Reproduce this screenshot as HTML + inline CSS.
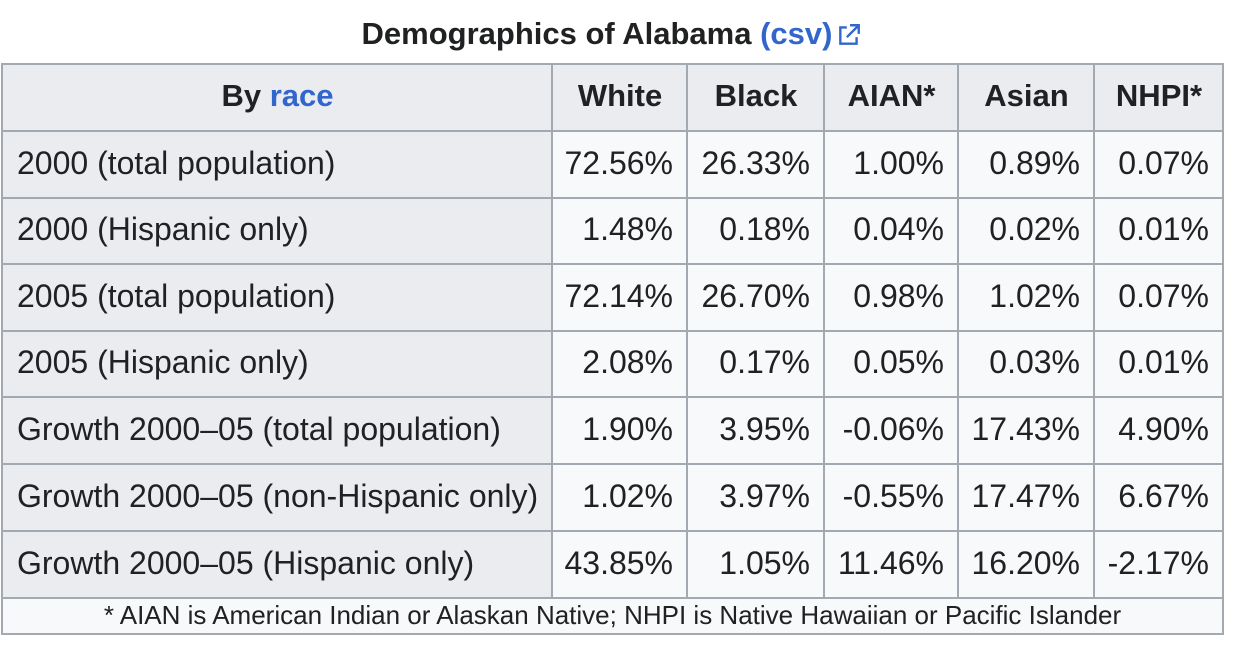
<!DOCTYPE html>
<html><head><meta charset="utf-8"><style>
body{margin:0;width:1234px;height:654px;background:#fff;font-family:"Liberation Sans",Arial,sans-serif;color:#202122;position:relative;overflow:hidden}
.c{position:absolute;box-sizing:border-box;border:2px solid #a2a9b1;display:flex;align-items:center;font-size:32px;padding:0 13px 3px 14px;white-space:nowrap}
.h{background:#eaecf0;font-weight:bold;justify-content:center;font-size:31px}
.l{background:#eaecf0}
.d{background:#f8f9fa;justify-content:flex-end}
a{color:#3366cc;text-decoration:none}
#t{position:absolute;top:16px;left:0;width:1224px;text-align:center;font-weight:bold;font-size:31px}
</style></head><body>
<div id="t">Demographics of Alabama <a>(csv)</a><svg width="26" height="26" viewBox="0 0 24 24" style="vertical-align:-4px;margin-left:4px"><path d="M10 5H4v15h15v-6M13 3h8v8M21 3L10 14" fill="none" stroke="#3366cc" stroke-width="2.2"/></svg></div>
<div id="tbl"></div>
<script>
const xs=[1,551,686,823,957,1093,1222];
const ys=[63,130,197,263,330,396,463,530,597];
const rows=[["<span>By <a>race</a></span>","White","Black","AIAN*","Asian","NHPI*"],
["2000 (total population)","72.56%","26.33%","1.00%","0.89%","0.07%"],
["2000 (Hispanic only)","1.48%","0.18%","0.04%","0.02%","0.01%"],
["2005 (total population)","72.14%","26.70%","0.98%","1.02%","0.07%"],
["2005 (Hispanic only)","2.08%","0.17%","0.05%","0.03%","0.01%"],
["Growth 2000–05 (total population)","1.90%","3.95%","-0.06%","17.43%","4.90%"],
["Growth 2000–05 (non-Hispanic only)","1.02%","3.97%","-0.55%","17.47%","6.67%"],
["Growth 2000–05 (Hispanic only)","43.85%","1.05%","11.46%","16.20%","-2.17%"]];
let h="";
rows.forEach((r,i)=>r.forEach((v,j)=>{
 const cls=i==0?"h":(j==0?"l":"d");
 h+=`<div class="c ${cls}" style="left:${xs[j]}px;top:${ys[i]}px;width:${xs[j+1]-xs[j]+2}px;height:${ys[i+1]-ys[i]+2}px">${v}</div>`;
}));
h+=`<div class="c d" style="left:1px;top:597px;width:1223px;height:38px;justify-content:center;font-size:26px;padding:0 0 2px 0">* AIAN is American Indian or Alaskan Native; NHPI is Native Hawaiian or Pacific Islander</div>`;
document.getElementById("tbl").innerHTML=h;
</script>
</body></html>
